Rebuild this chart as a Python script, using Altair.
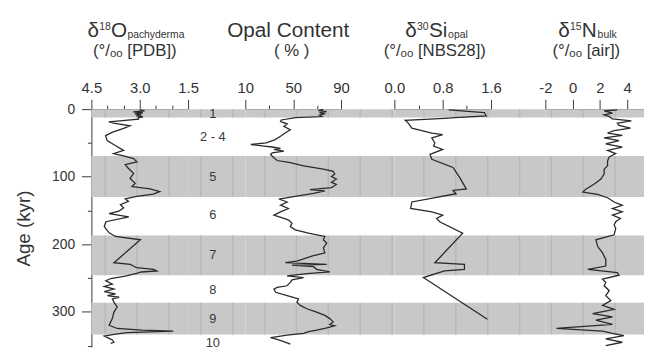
import json
import altair as alt
import pandas as pd

# ---------------- data ----------------
AGE_D18O = [1, 2.5, 4, 5.5, 7, 8.5, 10, 11.5, 13, 14.8, 18.7, 20.7, 24.6, 28.5, 34.3, 39.2, 46.5, 53.8, 61,
            65.9, 69.3, 73.2, 78, 82, 87.8, 95, 102.4, 109.7, 114.6, 118, 121.9, 125.8, 129, 132.6, 136.5,
            141.3, 146, 151, 154.5, 159.3, 166.6, 174, 183, 188.4, 193.3, 227.3, 229.8, 232.2, 234.6, 237,
            239.5, 241, 243, 247, 250.7, 254, 259, 262.3, 266.2, 270.1, 273.5, 276, 278.4, 280.8, 285.7,
            293, 300.3, 310, 319.8, 324.6, 327, 328.5, 330.9, 333.3, 335.8, 339.2, 341.6, 345, 346.5]
D18O = [3.0, 2.85, 3.2, 2.9, 3.15, 2.95, 3.1, 2.9, 3.05, 3.04, 3.96, 3.81, 3.3, 3.5, 3.86, 4.06, 4.01, 3.76, 3.5,
        3.81, 3.5, 3.19, 3.09, 3.45, 3.35, 3.19, 3.3, 3.14, 3.24, 2.68, 2.38, 2.58, 3.09, 3.45, 3.35, 3.6, 3.5,
        3.65, 3.95, 3.34, 4.05, 4.1, 3.95, 3.75, 2.98, 3.8, 3.29, 3.2, 3.1, 2.57, 2.47, 2.95, 3.1, 3.45, 3.9,
        4.05, 3.85, 4.1, 3.8, 4.1, 3.75, 4.0, 3.64, 3.85, 3.8, 3.7, 3.8, 3.85, 3.95, 3.7, 2.93, 1.96, 3.4, 3.8,
        4.1, 3.95, 3.85, 3.8, 3.9]

AGE_OPAL = [0.5, 2, 3.5, 5, 7, 9, 10.9, 12.5, 16, 18.2, 22, 25.5, 30.5, 35, 40, 45, 49.9, 52.3, 54.7, 56,
            58, 59.6, 62, 64.5, 67, 72, 76, 79.1, 84, 88.8, 92, 96, 99.7, 103.4, 108.2, 111.4, 116, 119, 121,
            124.8, 129.6, 133, 137.4, 142, 147, 152, 156.8, 161.7, 164.1, 169, 173.8, 178.7, 183.6, 186,
            188.4, 193.3, 198.2, 205.4, 212.7, 217.6, 224.9, 227.3, 229.8, 230.7, 233.2, 237, 240.9, 243.4,
            246.8, 249.2, 252.6, 256.5, 261.4, 263.8, 266.3, 271.1, 276, 280.8, 285.7, 290.5, 295.4, 300.3,
            305.2, 310, 314.9, 318.8, 320.7, 324.6, 327, 329.4, 331.9, 334.3, 338.2, 340.6, 344, 347.9]
OPAL = [75, 71, 78, 72, 76, 72, 74, 52, 40, 39.4, 45, 42.2, 47.6, 43.5, 39.4, 35, 27.5, 14.6, 25.7, 32.5,
        39.4, 33.9, 42.2, 32.5, 31, 33.9, 36.6, 47.6, 58.7, 75.2, 83.4, 84.7, 82, 86.1, 82, 86.1, 82, 64.1,
        76.5, 66.9, 50.4, 38, 44.9, 39.4, 46, 39.4, 33.9, 42.2, 46.3, 49, 47.6, 51.7, 62.8, 69.6, 76.5, 75.2,
        78, 75.2, 76.5, 65.5, 53.1, 43.5, 78, 49, 66.9, 69.6, 80.6, 61.4, 44.9, 58.7, 49, 47.6, 44.9, 36.6,
        33.9, 35.3, 44.9, 54.5, 53.1, 55.9, 61.4, 69.6, 76.5, 80.6, 83.4, 80.6, 84.7, 76.5, 69.6, 62.8, 58.7,
        44.9, 31.1, 36.6, 42.2, 47.6]

AGE_SI = [1, 5, 10, 12.5, 13.5, 16.5, 20.7, 28, 35.3, 37.7, 42.6, 50, 54.7, 59.6, 66.9, 74.2, 86.3, 101,
          118, 120.3, 125.2, 137.4, 147, 152, 156.8, 161.7, 166.6, 183.6, 227.3, 229.8, 237, 239.5, 249.2, 311]
D30SI = [0.9, 1.49, 1.52, 1.0, 0.83, 0.18, 0.23, 0.29, 0.62, 0.8, 0.62, 0.67, 0.65, 0.8, 0.59, 0.62, 0.97,
         1.08, 1.19, 0.97, 1.02, 0.29, 0.27, 0.62, 0.8, 0.7, 0.75, 1.13, 0.67, 1.16, 1.16, 0.83, 0.48, 1.54]

AGE_N = [1.2, 2.7, 6, 8.5, 10.9, 14.3, 17.3, 20.7, 24.1, 28, 31.9, 35.3, 38.7, 42.6, 46.4, 51.3, 56.2, 61,
         65.9, 70.8, 76.6, 83.9, 88.8, 96.1, 103.4, 110.7, 118, 122.8, 126.2, 131.1, 137.4, 142.3, 147.1, 152,
         156.8, 161.7, 166.6, 171.4, 176.3, 186, 193.3, 203, 212.7, 222.5, 232.2, 237.1, 241.9, 245.8, 251.6,
         256.5, 261.4, 268.7, 276, 283.3, 290.5, 296.4, 302.7, 307.6, 312.4, 318.7, 324.6, 328.5, 331.9,
         335.3, 340.1, 345, 349.9]
D15N = [3.28, 2.31, 2.92, 2.31, 2.68, 2.92, 4.3, 3.28, 3.4, 4.24, 3.04, 2.56, 3.64, 2.31, 3.4, 2.43, 3.64,
        2.56, 3.16, 2.68, 2.56, 2.56, 2.31, 2.31, 2.07, 1.59, 0.99, 0.75, 1.83, 2.56, 3.04, 3.64, 2.92, 3.64,
        2.92, 3.5, 3.16, 3.04, 3.16, 3.04, 1.71, 1.83, 2.19, 2.43, 2.43, 1.11, 3.28, 3.4, 2.19, 2.43, 2.31,
        2.68, 2.43, 2.8, 2.19, 3.04, 1.47, 2.92, 1.71, 2.92, -1.18, 2.19, 2.92, 3.76, 2.43, 3.64, 2.43]

MIS_START = [0, 69.5, 187, 286.6]
MIS_END = [12.5, 130, 246, 333.5]
STAGE_LABELS = ["1", "2 - 4", "5", "6", "7", "8", "9", "10"]
STAGE_AGE = [7, 41, 100, 157, 216, 268, 310, 346]

for a, b in [(AGE_D18O, D18O), (AGE_OPAL, OPAL), (AGE_SI, D30SI), (AGE_N, D15N)]:
    assert len(a) == len(b)

# ---------------- style ----------------
FONT = "Liberation Sans, Arial, Helvetica, DejaVu Sans, sans-serif"
INK = "#333333"
LINE = "#2a2a2a"
BAND = "#c8c8c8"
STRIPE = "#b8b8b8"
PLOT_H = 241
AGE_MAX = 352
STRIPE_START, STRIPE_STEP, STRIPE_COUNT = 106, 32.3, 17   # page-x of faint scan stripes

ONE = pd.DataFrame({"k": [0]})
bands = pd.DataFrame({"start": MIS_START, "end": MIS_END})
stages = pd.DataFrame({"label": STAGE_LABELS, "age": STAGE_AGE})

yscale = alt.Scale(domain=[0, AGE_MAX], reverse=True, nice=False, zero=False)

yaxis = alt.Axis(
    values=list(range(0, 351, 50)),
    labelExpr="datum.value % 100 === 0 ? datum.label : ''",
    tickSize={"condition": {"test": "datum.value % 100 === 0", "value": 10}, "value": 4},
    labelPadding=7, labelFontSize=14, labelFlush=False, labelOverlap=False,
    title="Age (kyr)", titleFontSize=19, titlePadding=18, grid=False,
)


def txt(t, x, y, size, align="left"):
    return alt.Chart(ONE).mark_text(
        text=t, align=align, baseline="alphabetic", fontSize=size, font=FONT, color=INK
    ).encode(x=alt.value(x), y=alt.value(y))


def base_layers(width, left, axis):
    layers = [alt.Chart(bands).mark_rect(color=BAND).encode(
        x=alt.value(0), x2=alt.value(width),
        y=alt.Y("start:Q", scale=yscale, axis=axis), y2="end:Q")]
    for k in range(STRIPE_COUNT):
        sx = STRIPE_START + k * STRIPE_STEP - left
        if 0.5 < sx < width - 0.5:
            layers.append(alt.Chart(bands).mark_rule(color=STRIPE, strokeWidth=1.5).encode(
                x=alt.value(sx), y=alt.Y("start:Q", scale=yscale, axis=axis), y2="end:Q"))
    return layers


def profile(ages, vals, domain, reverse, values, majors, fmt, axis):
    df = pd.DataFrame({"age": ages, "v": vals})
    test = f"indexof({json.dumps(majors)}, datum.value) >= 0"
    xaxis = alt.Axis(
        orient="top", values=values, grid=False,
        labelExpr=f"{test} ? {fmt} : ''",
        tickSize={"condition": {"test": test, "value": 10}, "value": 4},
        labelPadding=4, labelFontSize=15, labelFlush=False, labelOverlap=False, title=None,
    )
    return alt.Chart(df).mark_line(color=LINE, strokeWidth=1.3).encode(
        x=alt.X("v:Q", scale=alt.Scale(domain=domain, reverse=reverse, nice=False, zero=False), axis=xaxis),
        y=alt.Y("age:Q", scale=yscale, axis=axis),
        order="age:Q",
    )


def panel(width, left, extra, axis=None):
    return alt.layer(*base_layers(width, left, axis), *extra).properties(width=width, height=PLOT_H)


# panel geometry (page x of left edges) and widths
P1_L, P1_W = 92, 98
G1_L, G1_W = 190, 58
P2_L, P2_W = 248, 97
G2_L, G2_W = 345, 54
P3_L, P3_W = 399, 98
G3_L, G3_W = 497, 55
P4_L, P4_W = 552, 100

T1, TSUP, TSUB, T2 = -73.5, -80.5, -72, -54   # baselines relative to plot top
F1, FS, F2 = 21, 10.5, 17

p1 = panel(P1_W, P1_L, [
    profile(AGE_D18O, D18O, [1.5, 4.5], True, [1.5, 2.0, 2.5, 3.0, 3.5, 4.0, 4.5], [1.5, 3.0, 4.5],
            "format(datum.value, '.1f')", yaxis),
    txt("δ", -4, T1, F1), txt("18", 8, TSUP, FS), txt("O", 20, T1, F1), txt("pachyderma", 36.5, TSUB, FS),
    txt("(°/ₒₒ [PDB])", 44, T2, F2, "center"),
], axis=yaxis)

g1 = panel(G1_W, G1_L, [
    alt.Chart(stages).mark_text(fontSize=13, font=FONT, color="#3a3a3a", align="center", baseline="middle").encode(
        x=alt.value(25), y=alt.Y("age:Q", scale=yscale, axis=None), text="label:N"),
])

p2 = panel(P2_W, P2_L, [
    profile(AGE_OPAL, OPAL, [10, 90], False, [10, 30, 50, 70, 90], [10, 50, 90],
            "format(datum.value, 'd')", None),
    txt("Opal Content", 43.5, T1, F1, "center"),
    txt("( % )", 47, T2, F2, "center"),
])

g2 = panel(G2_W, G2_L, [])

p3 = panel(P3_W, P3_L, [
    profile(AGE_SI, D30SI, [0, 1.6], False, [0, 0.4, 0.8, 1.2, 1.6], [0, 0.8, 1.6],
            "format(datum.value, '.1f')", None),
    txt("δ", 11, T1, F1), txt("30", 23, TSUP, FS), txt("Si", 35, T1, F1), txt("opal", 54.5, TSUB, FS),
    txt("(°/ₒₒ [NBS28])", 41, T2, F2, "center"),
])

g3 = panel(G3_W, G3_L, [])

p4 = panel(P4_W, P4_L, [
    profile(AGE_N, D15N, [-2, -2 + P4_W / 13.83], False, [-2, 0, 2, 4], [-2, 0, 2, 4],
            "'' + datum.value", None),
    txt("δ", 13, T1, F1), txt("15", 25, TSUP, FS), txt("N", 37, T1, F1), txt("bulk", 53, TSUB, FS),
    txt("(°/ₒₒ [air])", 41.5, T2, F2, "center"),
])

chart = (
    alt.hconcat(p1, g1, p2, g2, p3, g3, p4, spacing=0, bounds="flush")
    .resolve_scale(x="independent", y="independent")
    .properties(padding={"left": 6.5, "top": 9.2, "right": 0, "bottom": 0})
    .configure_view(stroke=None)
    .configure_axis(
        zindex=1, labelFont=FONT, titleFont=FONT, labelColor=INK, titleColor=INK,
        domainColor="#3a3a3a", tickColor="#3a3a3a", domainWidth=1, tickWidth=1,
        titleFontWeight="normal",
    )
)

chart.save("out.html", embed_options={"renderer": "svg", "actions": False})
